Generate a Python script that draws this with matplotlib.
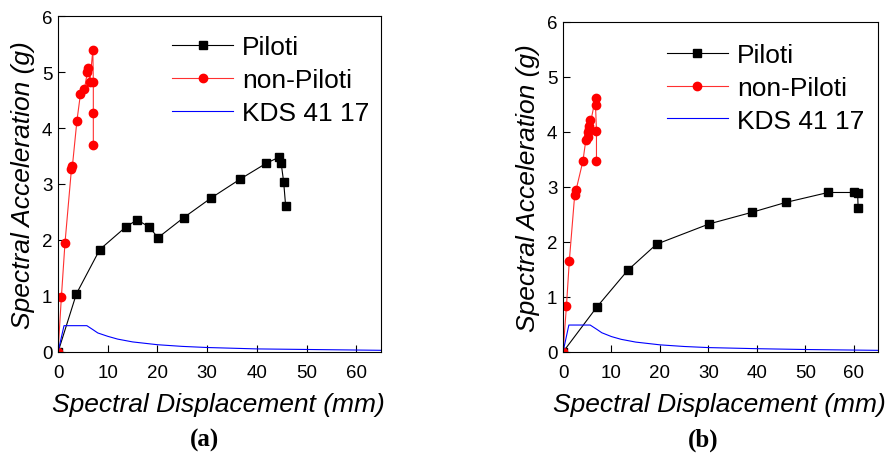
import matplotlib
matplotlib.use("Agg")
import matplotlib.pyplot as plt

plt.rcParams['font.family'] = ['Liberation Sans', 'DejaVu Sans']

# (a) Piloti / non-Piloti capacity points and KDS 41 17 demand spectrum
a_piloti_sd = [0, 3.7, 8.4, 13.6, 15.9, 18.4, 20.1, 25.3, 30.8, 36.7, 41.9, 44.5, 44.9, 45.4, 45.8]
a_piloti_sa = [0, 1.04, 1.83, 2.23, 2.36, 2.23, 2.04, 2.40, 2.75, 3.09, 3.37, 3.48, 3.37, 3.04, 2.61]
a_non_sd = [0, 0.67, 1.4, 2.7, 2.9, 3.8, 4.5, 5.3, 5.9, 6.1, 6.4, 7.0, 7.1, 7.1, 7.1]
a_non_sa = [0, 0.98, 1.95, 3.27, 3.33, 4.13, 4.60, 4.69, 5.00, 5.07, 4.83, 5.39, 4.82, 4.27, 3.69]
a_kds_sd = [0, 1.2, 5.8, 7, 8, 10, 12, 15, 20, 25, 30, 40, 50, 65]
a_kds_sa = [0, 0.47, 0.47, 0.40, 0.34, 0.28, 0.23, 0.18, 0.13, 0.10, 0.08, 0.055, 0.045, 0.03]

# (b)
b_piloti_sd = [0, 7.0, 13.4, 19.3, 30.2, 39.0, 46.0, 54.7, 60.1, 60.8, 60.9]
b_piloti_sa = [0, 0.82, 1.49, 1.96, 2.33, 2.54, 2.72, 2.90, 2.90, 2.89, 2.61]
b_non_sd = [0, 0.7, 1.3, 2.4, 2.7, 4.1, 4.7, 5.1, 5.2, 5.3, 5.5, 5.4, 6.7, 6.7, 6.9, 6.9]
b_non_sa = [0, 0.83, 1.66, 2.85, 2.95, 3.47, 3.85, 3.90, 4.00, 4.10, 4.22, 4.05, 4.62, 4.49, 4.02, 3.47]
b_kds_sd = [0, 1.2, 5.6, 7, 8, 10, 12, 15, 20, 25, 30, 40, 50, 65]
b_kds_sa = [0, 0.49, 0.49, 0.41, 0.35, 0.28, 0.23, 0.18, 0.13, 0.10, 0.08, 0.06, 0.045, 0.03]

xticks = [0, 10, 20, 30, 40, 50, 60]
yticks = [0, 1, 2, 3, 4, 5, 6]

fig = plt.figure(figsize=(8.93, 4.56), dpi=100)
ax_a = fig.add_axes([0.065, 0.2259, 0.3617, 0.7368])
ax_b = fig.add_axes([0.6305, 0.2259, 0.3527, 0.7237])

panels = [
    (ax_a, a_piloti_sd, a_piloti_sa, a_non_sd, a_non_sa, a_kds_sd, a_kds_sa, (0.354, 0.943)),
    (ax_b, b_piloti_sd, b_piloti_sa, b_non_sd, b_non_sa, b_kds_sd, b_kds_sa, (0.33, 0.937)),
]

for ax, psd, psa, nsd, nsa, ksd, ksa, leg_pos in panels:
    ax.plot(psd, psa, color='black', lw=0.8, marker='s', ms=5.5, label='Piloti')
    ax.plot(nsd, nsa, color='#ff3030', lw=0.8, marker='o', ms=6, mfc='red', mec='red', label='non-Piloti')
    ax.plot(ksd, ksa, color='blue', lw=0.8, label='KDS 41 17')
    ax.set_xlim(0, 65)
    ax.set_ylim(0, 6)
    ax.set_xticks(xticks)
    ax.set_yticks(yticks)
    ax.tick_params(direction='in', length=5, width=0.8, labelsize=13.5)
    ax.tick_params(axis='x', pad=9)
    ax.tick_params(axis='y', pad=4)
    for sp in ax.spines.values():
        sp.set_linewidth(0.8)
    ax.set_xlabel('Spectral Displacement (mm)', fontsize=19, style='italic')
    ax.set_ylabel('Spectral Acceleration (g)', fontsize=19, style='italic')
    ax.xaxis.set_label_coords(0.497, -0.12)
    ax.yaxis.set_label_coords(-0.072, 0.5)
    ax.legend(loc='upper left', bbox_to_anchor=leg_pos, frameon=False, fontsize=19,
              borderpad=0, labelspacing=0.34, handlelength=2.3, handletextpad=0.35,
              borderaxespad=0)

fig.text(0.229, 0.035, '(a)', ha='center', va='center', fontsize=18,
         fontweight='bold', family='Liberation Serif')
fig.text(0.787, 0.035, '(b)', ha='center', va='center', fontsize=18,
         fontweight='bold', family='Liberation Serif')

fig.savefig('out.png', dpi=100)
